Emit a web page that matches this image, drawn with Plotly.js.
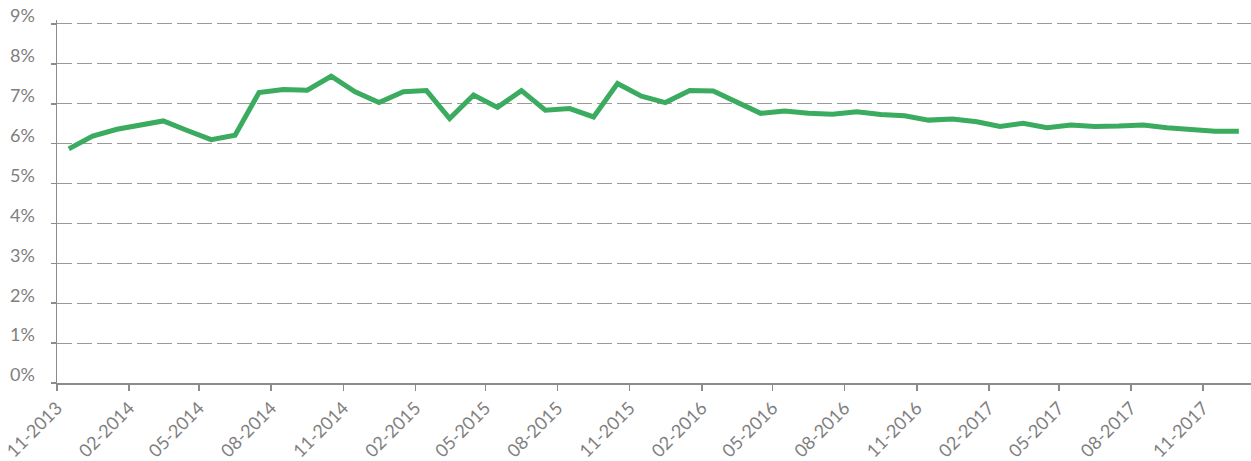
<!DOCTYPE html>
<html>
<head>
<meta charset="utf-8">
<script src="https://cdn.plot.ly/plotly-3.0.1.min.js"></script>
<style>
  html, body { margin: 0; padding: 0; background: #fff; }
  #chart { width: 1251px; height: 461px; }
</style>
</head>
<body>
<div id="chart"></div>
<script>
// Months (first day of each month; points are drawn at the middle of each month period)
const months = [
  '2013-11-01','2013-12-01',
  '2014-01-01','2014-02-01','2014-03-01','2014-04-01','2014-05-01','2014-06-01',
  '2014-07-01','2014-08-01','2014-09-01','2014-10-01','2014-11-01','2014-12-01',
  '2015-01-01','2015-02-01','2015-03-01','2015-04-01','2015-05-01','2015-06-01',
  '2015-07-01','2015-08-01','2015-09-01','2015-10-01','2015-11-01','2015-12-01',
  '2016-01-01','2016-02-01','2016-03-01','2016-04-01','2016-05-01','2016-06-01',
  '2016-07-01','2016-08-01','2016-09-01','2016-10-01','2016-11-01','2016-12-01',
  '2017-01-01','2017-02-01','2017-03-01','2017-04-01','2017-05-01','2017-06-01',
  '2017-07-01','2017-08-01','2017-09-01','2017-10-01','2017-11-01','2017-12-01'
];

// Rate in percent
const rate = [
  5.87, 6.19,
  6.36, 6.47, 6.57, 6.33, 6.10, 6.21,
  7.28, 7.36, 7.34, 7.69, 7.30, 7.03,
  7.30, 7.33, 6.63, 7.22, 6.91, 7.33,
  6.84, 6.88, 6.67, 7.51, 7.19, 7.03,
  7.33, 7.32, 7.04, 6.76, 6.82, 6.76,
  6.74, 6.80, 6.73, 6.70, 6.59, 6.62,
  6.55, 6.43, 6.51, 6.40, 6.47, 6.43,
  6.44, 6.47, 6.40, 6.34, 6.31, 6.31
];

// Y tick values (percent)
const yTicks = [0, 1, 2, 3, 4, 5, 6, 7, 8, 9];

const grey = '#7f7f7f';
const fontFam = 'Lato, "Open Sans", sans-serif';

const trace = {
  type: 'scatter',
  mode: 'lines',
  x: months,
  y: rate,
  xperiod: 'M1',
  xperiodalignment: 'middle',
  line: { color: '#3aab5f', width: 5 },
  hovertemplate: '%{y:.2f}%<extra></extra>'
};

const layout = {
  width: 1251,
  height: 461,
  margin: { l: 57, r: 0, t: 20, b: 78 },
  paper_bgcolor: '#ffffff',
  plot_bgcolor: '#ffffff',
  showlegend: false,
  font: { family: fontFam, size: 18, color: grey },
  xaxis: {
    type: 'date',
    range: ['2013-11-01', '2018-01-01'],
    tick0: '2013-11-01',
    dtick: 'M3',
    tickformat: '%m-%Y',
    tickangle: -45,
    ticks: 'outside',
    ticklen: 6,
    tickwidth: 1.5,
    tickcolor: '#8c8c8c',
    showline: true,
    linecolor: '#8c8c8c',
    linewidth: 1.5,
    showgrid: false,
    zeroline: false,
    tickfont: { family: fontFam, size: 18, color: grey }
  },
  yaxis: {
    range: [0, 9.1],
    tickvals: yTicks,
    ticktext: yTicks.map(v => v + '%'),
    ticks: 'outside',
    ticklen: 5,
    tickwidth: 1.5,
    tickcolor: '#8c8c8c',
    showline: true,
    linecolor: '#8c8c8c',
    linewidth: 1.5,
    showgrid: true,
    gridcolor: '#9a9a9a',
    gridwidth: 1,
    griddash: '15px,5px',
    zeroline: false,
    ticklabelstandoff: 12,
    ticklabelshift: -8,
    tickfont: { family: fontFam, size: 18, color: grey }
  }
};

Plotly.newPlot('chart', [trace], layout, { staticPlot: true, displayModeBar: false });
</script>
</body>
</html>
